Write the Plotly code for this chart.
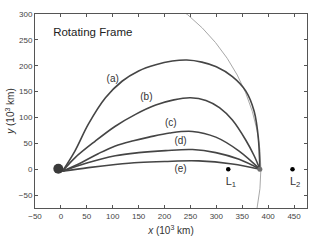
import plotly.graph_objects as go

# Trajectory data (10^3 km), rotating frame
traj_a_x = [3, 27, 53, 86, 118, 150, 183, 215, 243, 272, 300, 331, 357, 373, 381, 384]
traj_a_y = [-4, 35, 87, 138, 170, 190, 202, 209, 211, 207, 198, 179, 151, 112, 61, 0]
traj_b_x = [3, 27, 66, 105, 144, 183, 218, 250, 280, 306, 331, 357, 373, 384]
traj_b_y = [-4, 22, 54, 83, 106, 124, 134, 138, 133, 119, 95, 56, 26, 0]
traj_c_x = [3, 40, 72, 105, 140, 170, 210, 254, 299, 344, 384]
traj_c_y = [-4, 13, 30, 45, 55, 62, 70, 73, 62, 35, 0]
traj_d_x = [3, 50, 105, 150, 202, 254, 299, 344, 384]
traj_d_y = [-4, 12, 26, 32, 36, 38, 32, 19, 0]
traj_e_x = [3, 53, 105, 150, 200, 266, 331, 384]
traj_e_y = [-4, 3, 9, 13, 15, 16, 10, 0]

earth_x, earth_y = [-5], [1]
moon_x, moon_y = [384], [0]
moon_orbit_radius = 386
lagrange_x = [323, 447]
lagrange_y = [0, 0]
lagrange_labels = ["L<sub>1</sub>", "L<sub>2</sub>"]
lagrange_label_y = [-25, -25]

curve_labels = ["(a)", "(b)", "(c)", "(d)", "(e)"]
curve_label_x = [100, 165, 212, 231, 231]
curve_label_y = [173, 138, 88, 54, 0]

title_text = ["Rotating Frame"]
title_x, title_y = [-15], [263]

x_ticks = list(range(-50, 451, 50))
y_ticks = list(range(-50, 301, 50))

fig = go.Figure()

# Moon orbit (thin gray circle)
fig.add_shape(type="circle", xref="x", yref="y",
              x0=-moon_orbit_radius, x1=moon_orbit_radius,
              y0=-moon_orbit_radius, y1=moon_orbit_radius,
              line=dict(color="#a8a8a8", width=1), layer="below")

line_style = dict(color="#454545", width=1.6, shape="spline", smoothing=1.0)
for xs, ys in [(traj_a_x, traj_a_y), (traj_b_x, traj_b_y), (traj_c_x, traj_c_y),
               (traj_d_x, traj_d_y), (traj_e_x, traj_e_y)]:
    fig.add_trace(go.Scatter(x=xs, y=ys, mode="lines", line=line_style,
                             showlegend=False, hoverinfo="skip"))

fig.add_trace(go.Scatter(x=earth_x, y=earth_y, mode="markers",
                         marker=dict(size=10, color="#3a3a3a"), showlegend=False))
fig.add_trace(go.Scatter(x=moon_x, y=moon_y, mode="markers",
                         marker=dict(size=5, color="#707070"), showlegend=False))
fig.add_trace(go.Scatter(x=lagrange_x, y=lagrange_y, mode="markers",
                         marker=dict(size=4.5, color="#000000"), showlegend=False))

fig.add_trace(go.Scatter(x=curve_label_x, y=curve_label_y, mode="text",
                         text=curve_labels, textposition="middle center",
                         textfont=dict(family="Liberation Sans", size=10, color="#333"),
                         showlegend=False, hoverinfo="skip"))
fig.add_trace(go.Scatter(x=[v + 5 for v in lagrange_x], y=lagrange_label_y, mode="text",
                         text=lagrange_labels, textposition="middle center",
                         textfont=dict(family="Liberation Sans", size=11, color="#333"),
                         showlegend=False, hoverinfo="skip"))
fig.add_trace(go.Scatter(x=title_x, y=title_y, mode="text",
                         text=title_text, textposition="middle right",
                         textfont=dict(family="Liberation Sans", size=11.5, color="#222"),
                         showlegend=False, hoverinfo="skip"))

axis_common = dict(showline=True, linecolor="#555", linewidth=1, mirror="ticks",
                   ticks="inside", ticklen=3, tickcolor="#555", showgrid=False,
                   zeroline=False,
                   tickfont=dict(family="Liberation Sans Narrow, Liberation Sans",
                                 size=8, color="#444"))

fig.update_xaxes(range=[-50, 475], tickvals=x_ticks, **axis_common,
                 title=dict(text="<i>x</i> (10<sup>3</sup> km)", standoff=7,
                            font=dict(family="Liberation Sans", size=10, color="#333")))
fig.update_yaxes(range=[-75, 300], tickvals=y_ticks, **axis_common,
                 title=dict(text="<i>y</i> (10<sup>3</sup> km)", standoff=2,
                            font=dict(family="Liberation Sans", size=10, color="#333")))

fig.update_layout(width=312, height=241, margin=dict(l=35, r=5, t=14, b=33),
                  plot_bgcolor="white", paper_bgcolor="white")

fig.write_html("out.html")
